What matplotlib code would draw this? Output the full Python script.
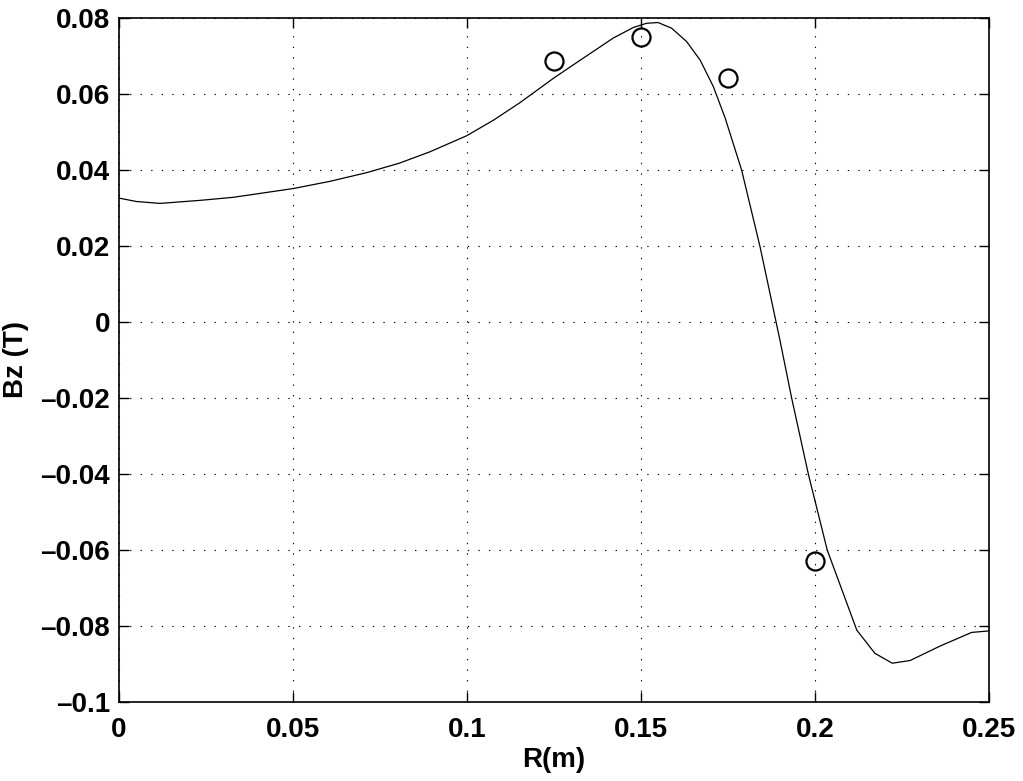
import matplotlib
matplotlib.use("Agg")
import matplotlib.pyplot as plt
from matplotlib.ticker import FixedLocator, FixedFormatter

# Curve: Bz vs R
r_curve = [0, 0.005, 0.0118, 0.0233, 0.0328, 0.05, 0.0606, 0.0712, 0.0806, 0.0894,
           0.0999, 0.1076, 0.1152, 0.1248, 0.1306, 0.1363,
           0.1420, 0.1478, 0.1516, 0.1549, 0.1588, 0.1631, 0.1670, 0.1708, 0.1742,
           0.1789, 0.1842, 0.1899, 0.1933, 0.1981, 0.2035, 0.212, 0.2172,
           0.2222, 0.2273, 0.2359, 0.245, 0.25]
bz_curve = [0.0326, 0.0317, 0.0312, 0.0320, 0.0328, 0.0351, 0.0370, 0.0393, 0.0418, 0.0448,
            0.0490, 0.0531, 0.0577, 0.0641, 0.0677, 0.0712,
            0.0747, 0.0775, 0.0786, 0.0788, 0.0773, 0.0738, 0.0689, 0.0619, 0.0536,
            0.0400, 0.0198, -0.0047, -0.0201, -0.0401, -0.0600, -0.0811, -0.0872,
            -0.0898, -0.0891, -0.0853, -0.0817, -0.0813]

# Measured points
r_meas = [0.125, 0.15, 0.175, 0.2]
bz_meas = [0.0686, 0.0749, 0.0643, -0.0629]

x_ticks = [0, 0.05, 0.1, 0.15, 0.2, 0.25]
x_labels = ["0", "0.05", "0.1", "0.15", "0.2", "0.25"]
y_ticks = [-0.1, -0.08, -0.06, -0.04, -0.02, 0, 0.02, 0.04, 0.06, 0.08]
y_labels = ["\u20130.1", "\u20130.08", "\u20130.06", "\u20130.04", "\u20130.02",
            "0", "0.02", "0.04", "0.06", "0.08"]

plt.rcParams['font.family'] = ['Liberation Sans', 'DejaVu Sans']
plt.rcParams['font.weight'] = 'bold'

fig = plt.figure(figsize=(10.23, 7.81), dpi=100)
ax = fig.add_axes([0.1163, 0.1012, 0.8505, 0.8758])

ax.plot(r_curve, bz_curve, color='black', linewidth=0.9)
ax.plot(r_meas, bz_meas, linestyle='none', marker='o', markersize=13,
        markerfacecolor='none', markeredgecolor='black', markeredgewidth=1.6)

ax.set_xlim(0, 0.25)
ax.set_ylim(-0.1, 0.08)
ax.xaxis.set_major_locator(FixedLocator(x_ticks))
ax.xaxis.set_major_formatter(FixedFormatter(x_labels))
ax.yaxis.set_major_locator(FixedLocator(y_ticks))
ax.yaxis.set_major_formatter(FixedFormatter(y_labels))

ax.grid(True, color='black', linestyle=(0, (1.2, 8.3)), linewidth=0.8)
ax.tick_params(direction='in', length=7, width=1, top=True, right=True,
               labelsize=20)
ax.tick_params(axis='x', pad=11)
ax.tick_params(axis='y', pad=6.5)
for lab in ax.get_xticklabels() + ax.get_yticklabels():
    lab.set_fontweight('bold')
for s in ax.spines.values():
    s.set_linewidth(1.2)

ax.set_xlabel("R(m)", fontsize=20, fontweight='bold', labelpad=3)
ax.set_ylabel("Bz (T)", fontsize=20, fontweight='bold', labelpad=8)

fig.savefig("out.png", dpi=100)
